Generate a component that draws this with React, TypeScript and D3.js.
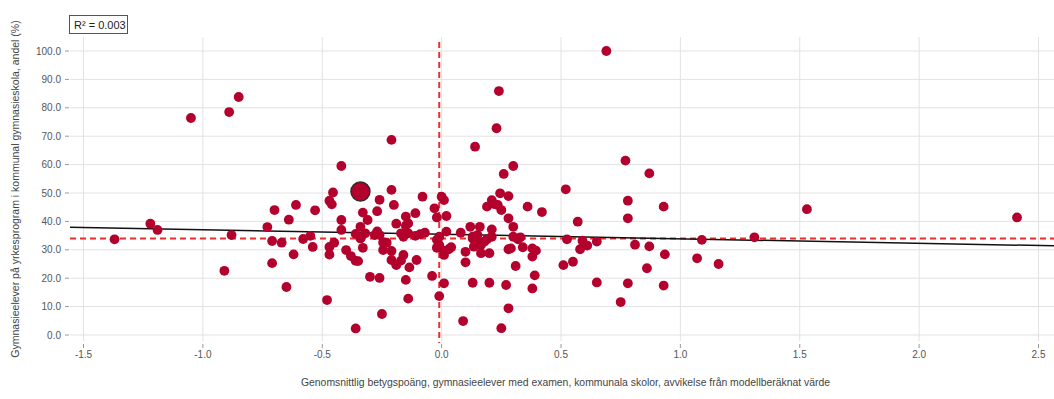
import React from "react";
import * as d3 from "d3";

const xVals: number[] = [
  -1.37, -1.22, -1.19, -1.05, -0.91, -0.89, -0.88, -0.85, -0.73, -0.71,
  -0.70, -0.71, -0.67, -0.65, -0.64, -0.62, -0.61, -0.53, -0.58, -0.55,
  -0.54, -0.48, -0.36, -0.47, -0.47, -0.45, -0.42, -0.42, -0.42, -0.455,
  -0.47, -0.46, -0.33, -0.31, -0.34, -0.36, -0.32, -0.34, -0.33, -0.40,
  -0.38, -0.36, -0.35, -0.30, -0.26, -0.25, -0.21, -0.21, -0.26, -0.20,
  -0.27, -0.19, -0.27, -0.28, -0.26, -0.245, -0.23, -0.245, -0.21, -0.21,
  -0.19, -0.17, -0.15, -0.14, -0.15, -0.16, -0.14, -0.11, -0.08, -0.11,
  -0.09, -0.07, -0.16, -0.17, -0.135, -0.105, -0.15, -0.14, -0.04, -0.03,
  -0.02, 0.0, 0.01, 0.02, -0.02, -0.01, -0.02, 0.01, 0.03, 0.04,
  0.02, 0.01, -0.01, 0.08, 0.10, 0.10, 0.09, 0.12, 0.13, 0.135,
  0.13, 0.16, 0.15, 0.165, 0.165, 0.18, 0.21, 0.20, 0.21, 0.20,
  0.25, 0.19, 0.21, 0.235, 0.25, 0.245, 0.28, 0.28, 0.30, 0.30,
  0.32, 0.28, 0.29, 0.31, 0.27, 0.28, 0.34, 0.36, 0.38, 0.395,
  0.38, 0.39, 0.38, 0.42, 0.51, 0.525, 0.55, 0.57, 0.52, 0.23,
  0.14, 0.26, 0.30, 0.22, 0.24, 0.69, 0.77, 0.87, 0.78, 0.93,
  0.78, 0.59, 0.61, 0.58, 0.65, 0.81, 0.87, 0.935, 1.09, 1.07,
  0.86, 0.65, 0.78, 0.93, 0.75, 1.16, 1.31, 1.53, 2.41, -0.01,
  0.01, 0.13, 0.15, 0.19, 0.33,
];

const yVals: number[] = [
  33.7, 39.2, 37.0, 76.4, 22.6, 78.5, 35.2, 83.8, 38.0, 33.1,
  44.0, 25.3, 32.5, 16.9, 40.6, 28.4, 45.8, 43.9, 33.8, 34.9,
  31.0, 12.3, 2.3, 28.3, 31.0, 32.5, 40.5, 37.0, 59.5, 50.2,
  47.3, 46.0, 43.1, 40.5, 38.1, 35.6, 35.8, 34.0, 30.7, 29.9,
  27.8, 26.1, 26.0, 20.5, 20.1, 7.4, 68.7, 51.1, 47.6, 45.8,
  43.6, 39.2, 36.5, 35.2, 35.2, 32.6, 32.5, 29.9, 29.6, 26.4,
  24.6, 35.8, 41.7, 39.3, 38.5, 34.6, 35.8, 42.9, 48.7, 34.9,
  35.5, 36.0, 28.2, 26.2, 23.8, 26.4, 19.4, 12.8, 20.8, 44.6,
  41.4, 48.7, 47.5, 41.9, 33.5, 31.7, 30.7, 29.7, 30.2, 30.9,
  36.4, 18.2, 13.7, 36.0, 29.3, 25.6, 4.9, 38.1, 34.0, 31.1,
  18.4, 38.1, 35.2, 31.7, 28.8, 32.9, 34.6, 28.8, 37.2, 18.4,
  2.4, 45.2, 47.5, 45.8, 44.0, 49.9, 48.9, 41.1, 38.1, 34.6,
  33.7, 30.2, 30.5, 24.3, 17.6, 9.4, 30.9, 45.2, 30.5, 29.7,
  27.6, 21.0, 16.4, 43.3, 24.6, 33.7, 25.8, 39.9, 51.3, 72.8,
  66.3, 56.7, 59.5, 46.1, 85.9, 100.0, 61.4, 56.9, 47.3, 45.2,
  41.1, 33.2, 31.5, 30.2, 32.9, 31.8, 31.2, 28.4, 33.5, 27.0,
  23.5, 18.5, 18.2, 17.4, 11.6, 25.0, 34.4, 44.3, 41.4, 34.6,
  28.2, 34.6, 33.2, 33.7, 34.4,
];

const highlight = { x: -0.34, y: 50.5 };
const meanX = -0.01;
const meanY = 34.0;
const regIntercept = 35.45;
const regSlope = -1.58;
const rSquaredText = "R² = 0.003";

const xTicks: number[] = [-1.5, -1.0, -0.5, 0.0, 0.5, 1.0, 1.5, 2.0, 2.5];
const yTicks: number[] = [0, 10, 20, 30, 40, 50, 60, 70, 80, 90, 100];

const xTitle =
  "Genomsnittlig betygspoäng, gymnasieelever med examen, kommunala skolor, avvikelse från modellberäknat värde";
const yTitle =
  "Gymnasieelever på yrkesprogram i kommunal gymnasieskola, andel (%)";

const W = 1054;
const H = 399;
const font = "'Liberation Sans', Arial, sans-serif";

export default function App() {
  const plotLeft = 70;
  const plotTop = 37;
  const plotBottom = 341;
  const x = d3.scaleLinear().domain([-1.5, 2.5]).range([83.5, 1038.5]);
  const y = d3.scaleLinear().domain([0, 100]).range([335, 51]);
  const xMin = x.invert(plotLeft);
  const xMax = x.invert(W + 10);

  const points = xVals.map((v, i) => ({ x: v, y: yVals[i] }));
  const regLine = d3
    .line<number>()
    .x((d) => x(d))
    .y((d) => y(regIntercept + regSlope * d));

  return (
    <svg
      width={W}
      height={H}
      style={{ position: "absolute", left: 0, top: 0, background: "#fff" }}
      fontFamily={font}
    >
      {yTicks.map((t) => (
        <g key={"y" + t}>
          <line x1={plotLeft} x2={W} y1={y(t)} y2={y(t)} stroke="#e2e2e2" strokeWidth={1} />
          <line x1={65} x2={69} y1={y(t)} y2={y(t)} stroke="#999" strokeWidth={1} />
          <text x={61} y={y(t)} dy="0.35em" textAnchor="end" fontSize={10} fill="#555">
            {t.toFixed(1)}
          </text>
        </g>
      ))}
      {xTicks.map((t) => (
        <g key={"x" + t}>
          <line x1={x(t)} x2={x(t)} y1={plotTop} y2={plotBottom} stroke="#e2e2e2" strokeWidth={1} />
          <line x1={x(t)} x2={x(t)} y1={344} y2={348} stroke="#999" strokeWidth={1} />
          <text x={x(t)} y={358} textAnchor="middle" fontSize={10} fill="#555">
            {t.toFixed(1)}
          </text>
        </g>
      ))}

      <line
        x1={plotLeft}
        x2={W}
        y1={y(meanY)}
        y2={y(meanY)}
        stroke="#ee2c2c"
        strokeWidth={2}
        strokeDasharray="6,4"
      />
      <line
        x1={x(meanX)}
        x2={x(meanX)}
        y1={42}
        y2={343}
        stroke="#ee2c2c"
        strokeWidth={2}
        strokeDasharray="6,4"
      />

      <path d={regLine([xMin, xMax]) || ""} stroke="#111" strokeWidth={1.5} fill="none" />

      {points.map((p, i) => (
        <circle key={i} cx={x(p.x)} cy={y(p.y)} r={4.9} fill="#b3002d" />
      ))}
      <circle
        cx={x(highlight.x)}
        cy={y(highlight.y)}
        r={9.5}
        fill="#b3002d"
        stroke="#3a2a2a"
        strokeWidth={1.5}
      />

      <rect x={69.5} y={15.5} width={58} height={18} fill="#fff" stroke="#555" strokeWidth={1} />
      <text x={74} y={28.5} fontSize={11} fill="#222">
        {rSquaredText}
      </text>

      <text x={565.5} y={386} textAnchor="middle" fontSize={10.4} fill="#444">
        {xTitle}
      </text>
      <text
        transform={`translate(19, 189) rotate(-90)`}
        textAnchor="middle"
        fontSize={10.5}
        fill="#444"
      >
        {yTitle}
      </text>
    </svg>
  );
}
